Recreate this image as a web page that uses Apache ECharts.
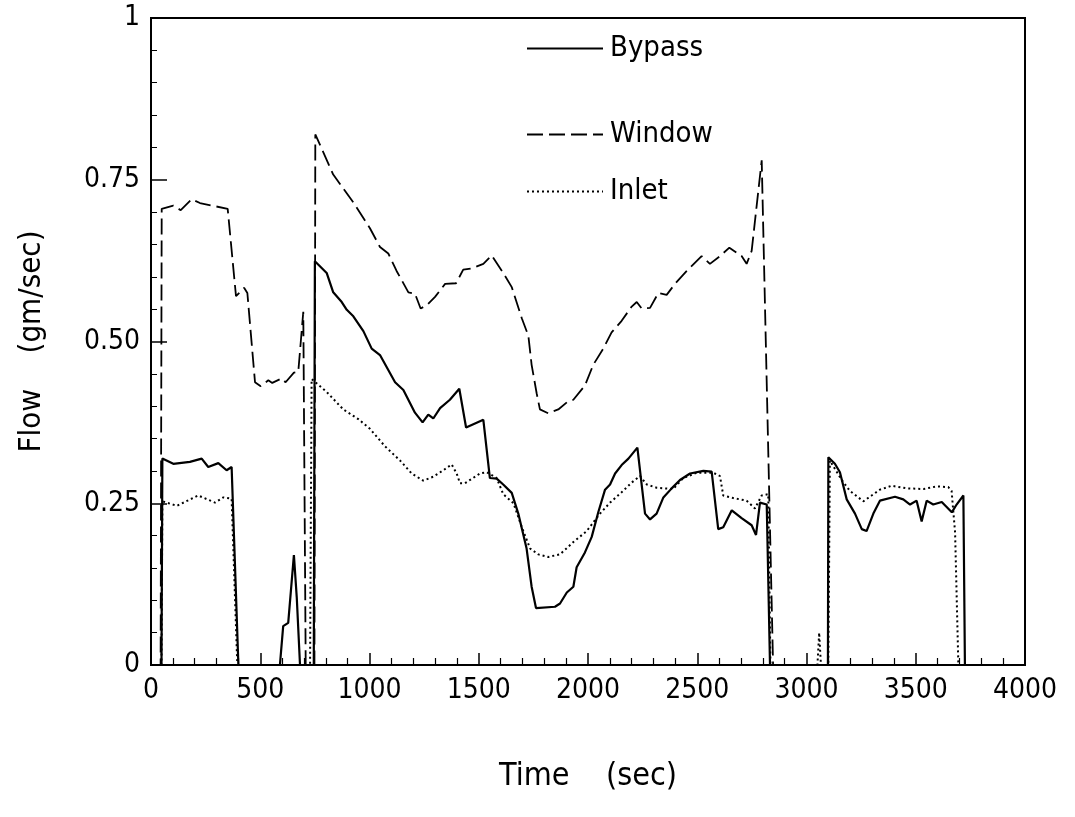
<!DOCTYPE html>
<html>
<head>
<meta charset="utf-8">
<script src="https://cdn.jsdelivr.net/npm/echarts@6/dist/echarts.min.js"></script>
<style>
html,body{margin:0;padding:0;background:#fff;}
#chart{width:1075px;height:817px;}
</style>
</head>
<body>
<div id="chart"></div>
<script>
// Tick labels
var xTicks = [0, 500, 1000, 1500, 2000, 2500, 3000, 3500, 4000];
var yTicks = ['0', '0.25', '0.50', '0.75', '1'];
var seriesNames = ['Bypass', 'Window', 'Inlet'];

// Bypass (solid)
var bypassTime = [0, 48, 52, 102, 178, 232, 262, 308, 346, 369, 400, 590, 605, 628, 654, 667, 682, 745,
  750, 804, 834, 873, 896, 926, 972, 1010, 1048, 1117, 1155, 1208, 1243, 1269, 1292, 1323, 1368, 1411,
  1442, 1521, 1551, 1582, 1612, 1651, 1681, 1719, 1742, 1762, 1849, 1872, 1903, 1933, 1948, 1986, 2017,
  2047, 2078, 2101, 2124, 2154, 2185, 2226, 2261, 2284, 2314, 2345, 2383, 2421, 2467, 2528, 2566, 2596,
  2619, 2658, 2703, 2749, 2769, 2787, 2818, 2833, 3098, 3100, 3130, 3153, 3184, 3222, 3253, 3275, 3306,
  3336, 3405, 3443, 3474, 3504, 3527, 3550, 3580, 3619, 3665, 3687, 3718, 3725, 4000];
var bypassFlow = [0, 0, 0.319, 0.311, 0.314, 0.319, 0.306, 0.312, 0.301, 0.306, 0, 0, 0.06, 0.065, 0.17, 0.105, 0, 0,
  0.624, 0.606, 0.576, 0.561, 0.549, 0.539, 0.516, 0.489, 0.479, 0.437, 0.425, 0.39, 0.375, 0.387, 0.381, 0.397, 0.41, 0.427,
  0.367, 0.379, 0.289, 0.288, 0.279, 0.266, 0.234, 0.18, 0.121, 0.088, 0.09, 0.095, 0.112, 0.121, 0.151, 0.174, 0.198,
  0.236, 0.271, 0.279, 0.296, 0.309, 0.319, 0.336, 0.234, 0.225, 0.234, 0.259, 0.273, 0.286, 0.296, 0.3, 0.299, 0.21,
  0.213, 0.239, 0.227, 0.216, 0.201, 0.251, 0.248, 0, 0, 0.321, 0.311, 0.298, 0.256, 0.234, 0.21, 0.207, 0.234,
  0.254, 0.26, 0.256, 0.248, 0.254, 0.222, 0.254, 0.248, 0.252, 0.236, 0.248, 0.262, 0, 0];

// Window (dashed)
var windowTime = [0, 44, 49, 102, 136, 186, 224, 351, 389, 426, 441, 476, 502, 537, 555, 598, 616, 654, 674, 697,
  708, 748, 752, 834, 926, 1002, 1048, 1086, 1124, 1178, 1208, 1234, 1262, 1300, 1346, 1396, 1429, 1468, 1521,
  1559, 1612, 1651, 1697, 1727, 1742, 1765, 1780, 1818, 1864, 1903, 1933, 1986, 2024, 2070, 2108, 2154, 2200,
  2223, 2246, 2284, 2322, 2360, 2398, 2452, 2520, 2558, 2604, 2647, 2703, 2726, 2749, 2772, 2795, 2847, 4000];
var windowFlow = [0, 0, 0.705, 0.71, 0.703, 0.72, 0.714, 0.705, 0.57, 0.583, 0.575, 0.437, 0.431, 0.44, 0.436, 0.443, 0.437, 0.452, 0.453, 0.546,
  0, 0, 0.82, 0.758, 0.715, 0.675, 0.646, 0.636, 0.609, 0.576, 0.574, 0.551, 0.556, 0.569, 0.589, 0.59, 0.611, 0.613, 0.62,
  0.633, 0.606, 0.584, 0.536, 0.509, 0.464, 0.42, 0.395, 0.389, 0.395, 0.406, 0.41, 0.432, 0.464, 0.489, 0.514, 0.532, 0.554,
  0.561, 0.551, 0.552, 0.575, 0.572, 0.589, 0.609, 0.632, 0.62, 0.632, 0.645, 0.632, 0.62, 0.64, 0.71, 0.78, 0, 0];

// Inlet (dotted)
var inletTime = [0, 48, 52, 118, 216, 293, 331, 369, 395, 728, 735, 804, 880, 949, 1002, 1071, 1140, 1193, 1246,
  1292, 1338, 1376, 1399, 1414, 1437, 1506, 1536, 1582, 1612, 1659, 1697, 1735, 1773, 1818, 1872, 1933, 1994,
  2055, 2101, 2154, 2200, 2238, 2269, 2314, 2390, 2436, 2497, 2574, 2604, 2619, 2665, 2726, 2764, 2795, 2825,
  2835, 3050, 3058, 3066, 3100, 3107, 3161, 3199, 3260, 3298, 3336, 3390, 3459, 3535, 3596, 3649, 3664, 3680,
  3695, 4000];
var inletFlow = [0, 0, 0.253, 0.246, 0.262, 0.251, 0.259, 0.257, 0, 0, 0.442, 0.422, 0.395, 0.38, 0.365, 0.338, 0.316, 0.296, 0.285,
  0.291, 0.301, 0.31, 0.296, 0.281, 0.281, 0.296, 0.298, 0.289, 0.264, 0.25, 0.213, 0.18, 0.171, 0.167, 0.171, 0.19, 0.207,
  0.234, 0.251, 0.267, 0.282, 0.292, 0.279, 0.274, 0.272, 0.289, 0.297, 0.297, 0.292, 0.262, 0.258, 0.254, 0.242, 0.262, 0.264,
  0, 0, 0.05, 0, 0, 0.316, 0.286, 0.269, 0.253, 0.262, 0.271, 0.277, 0.273, 0.272, 0.276, 0.275, 0.269, 0.205,
  0, 0];

function zip(a, b) { return a.map(function (t, i) { return [t, b[i]]; }); }

var FONT = "'Liberation Sans Narrow', 'DejaVu Sans Condensed', 'Liberation Sans', sans-serif";
var legendTops = [29, 115, 172];
function makeLegend(name, i) {
  return {
    data: [name], orient: 'vertical', left: 521, top: legendTops[i],
    itemWidth: 76, itemHeight: 14,
    itemStyle: {opacity: 0},
    textStyle: {fontFamily: FONT, fontSize: 29, color: '#000', padding: [0, 0, 0, 2]},
    selectedMode: false
  };
}
var chart = echarts.init(document.getElementById('chart'), null, {renderer: 'canvas'});
chart.setOption({
  backgroundColor: '#ffffff',
  animation: false,
  grid: {left: 151, right: 50, top: 18, bottom: 152, show: true, borderColor: '#000', borderWidth: 2},
  legend: seriesNames.map(makeLegend),
  xAxis: {
    type: 'value', min: 0, max: 4000, interval: 500,
    name: 'Time    (sec)', nameLocation: 'middle', nameGap: 96,
    nameTextStyle: {fontFamily: FONT, fontSize: 32, color: '#000'},
    axisLine: {show: true, lineStyle: {color: '#000', width: 2}},
    axisTick: {show: true, inside: true, length: 12, lineStyle: {color: '#000', width: 1.5}},
    minorTick: {show: true, splitNumber: 5, length: 7, lineStyle: {color: '#000', width: 1.2}},
    splitLine: {show: false},
    axisLabel: {fontFamily: FONT, fontSize: 28, color: '#000', margin: 12,
      formatter: function (v) { return xTicks.indexOf(v) >= 0 ? String(v) : ''; }}
  },
  yAxis: {
    type: 'value', min: 0, max: 1, interval: 0.25,
    name: 'Flow    (gm/sec)', nameLocation: 'middle', nameGap: 104, nameRotate: 90,
    nameTextStyle: {fontFamily: FONT, fontSize: 31, color: '#000'},
    axisLine: {show: true, lineStyle: {color: '#000', width: 2}},
    axisTick: {show: true, inside: true, length: 16, lineStyle: {color: '#000', width: 1.5}},
    minorTick: {show: true, splitNumber: 5, length: 6, lineStyle: {color: '#000', width: 1}},
    splitLine: {show: false},
    axisLabel: {fontFamily: FONT, fontSize: 28, color: '#000', margin: 11,
      formatter: function (v) { return yTicks[Math.round(v * 4)]; }}
  },
  series: [
    {name: 'Bypass', type: 'line', data: zip(bypassTime, bypassFlow), symbol: 'none',
      lineStyle: {color: '#000', width: 2.2, type: 'solid'}, itemStyle: {color: '#000'}},
    {name: 'Window', type: 'line', data: zip(windowTime, windowFlow), symbol: 'none',
      lineStyle: {color: '#000', width: 1.8, type: [16, 6]}, itemStyle: {color: '#000'}},
    {name: 'Inlet', type: 'line', data: zip(inletTime, inletFlow), symbol: 'none',
      lineStyle: {color: '#000', width: 2, type: [2, 3]}, itemStyle: {color: '#000'}}
  ]
});
</script>
</body>
</html>
